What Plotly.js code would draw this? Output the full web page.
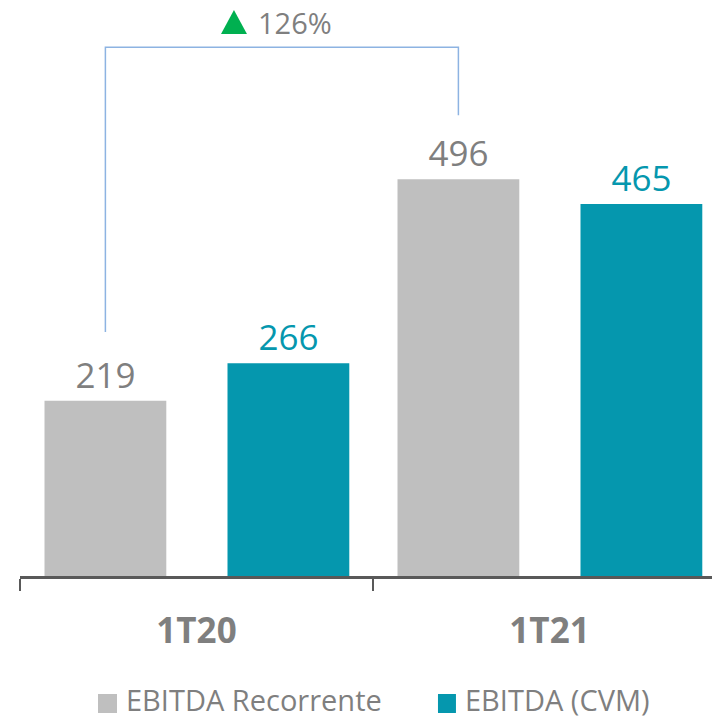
<!DOCTYPE html>
<html>
<head>
<meta charset="utf-8">
<script src="https://cdn.plot.ly/plotly-3.0.1.min.js"></script>
<style>html,body{margin:0;padding:0;background:#fff;}#chart{width:712px;height:719px;}</style>
</head>
<body>
<div id="chart"></div>
<script>
const categories = ["1T20", "1T21"];
const seriesNames = ["EBITDA Recorrente", "EBITDA (CVM)"];
const recorrente = [219, 496];
const cvm = [266, 465];
const growthLabel = "126%";

const GRAY = "#bfbfbf", TEAL = "#0597ae", TXT = "#7f7f7f", AXIS = "#595959", GREEN = "#00b050";
const FONT = "Open Sans, Noto Sans, sans-serif";
const BW = 0.345, OFF_A = -0.4306, OFF_B = 0.0878;

const traces = [
  {type: "bar", name: seriesNames[0], x: categories, y: recorrente,
   marker: {color: GRAY}, width: BW, offset: OFF_A,
   text: recorrente.map(String), textposition: "outside", cliponaxis: false,
   textfont: {family: FONT, size: 35, color: TXT}, hoverinfo: "none"},
  {type: "bar", name: seriesNames[1], x: categories, y: cvm,
   marker: {color: TEAL}, width: BW, offset: OFF_B,
   text: cvm.map(String), textposition: "outside", cliponaxis: false,
   textfont: {family: FONT, size: 35, color: TEAL}, hoverinfo: "none"}
];

// bracket from first gray bar to second gray bar
const xa = 0 + OFF_A + BW / 2, xb = 1 + OFF_A + BW / 2;
const yLeft = recorrente[0] + 86, yRight = recorrente[1] + 80;
const yTop = Math.max(...recorrente) + 165;

const shapes = [
  {type: "path", xref: "x", yref: "y",
   path: `M ${xa},${yLeft} L ${xa},${yTop} L ${xb},${yTop} L ${xb},${yRight}`,
   line: {color: "#8db3e2", width: 1.5}},
  {type: "path", xref: "paper", yref: "paper",
   path: "M 0.2905,0.9410 L 0.3280,0.9410 L 0.3092,0.9826 Z",
   fillcolor: GREEN, line: {width: 0}},
  {type: "rect", xref: "paper", yref: "paper", x0: 0.1127, x1: 0.1402, y0: -0.2378, y1: -0.2049,
   fillcolor: GRAY, line: {width: 0}},
  {type: "rect", xref: "paper", yref: "paper", x0: 0.604, x1: 0.630, y0: -0.2378, y1: -0.2049,
   fillcolor: TEAL, line: {width: 0}}
];

const annotations = [
  {xref: "paper", yref: "paper", x: 0.3410, y: 0.9618, xanchor: "left", yanchor: "middle",
   showarrow: false, font: {family: FONT, size: 29, color: TXT}, text: growthLabel},
  {xref: "paper", yref: "paper", x: 0.1503, y: -0.2140, xanchor: "left", yanchor: "middle",
   showarrow: false, font: {family: FONT, size: 29, color: TXT}, text: seriesNames[0]},
  {xref: "paper", yref: "paper", x: 0.6400, y: -0.2140, xanchor: "left", yanchor: "middle",
   showarrow: false, font: {family: FONT, size: 29, color: TXT}, text: seriesNames[1]}
];

const layout = {
  width: 712, height: 719,
  margin: {l: 20, r: 0, t: 0, b: 143, pad: 0},
  paper_bgcolor: "#fff", plot_bgcolor: "#fff",
  showlegend: false,
  barmode: "group",
  xaxis: {type: "category", range: [-0.5, 1.4603], showgrid: false, zeroline: false,
    showline: true, linecolor: AXIS, linewidth: 2.5,
    ticks: "outside", tickson: "boundaries", ticklen: 12, tickwidth: 2.5, tickcolor: AXIS,
    ticklabelstandoff: 22,
    tickfont: {family: FONT, size: 35, color: TXT, weight: "bold"}, fixedrange: true},
  yaxis: {range: [0, 720], visible: false, showgrid: false, zeroline: false, fixedrange: true},
  shapes: shapes,
  annotations: annotations,
  font: {family: FONT}
};

Plotly.newPlot("chart", traces, layout, {displayModeBar: false, staticPlot: true});
</script>
</body>
</html>
